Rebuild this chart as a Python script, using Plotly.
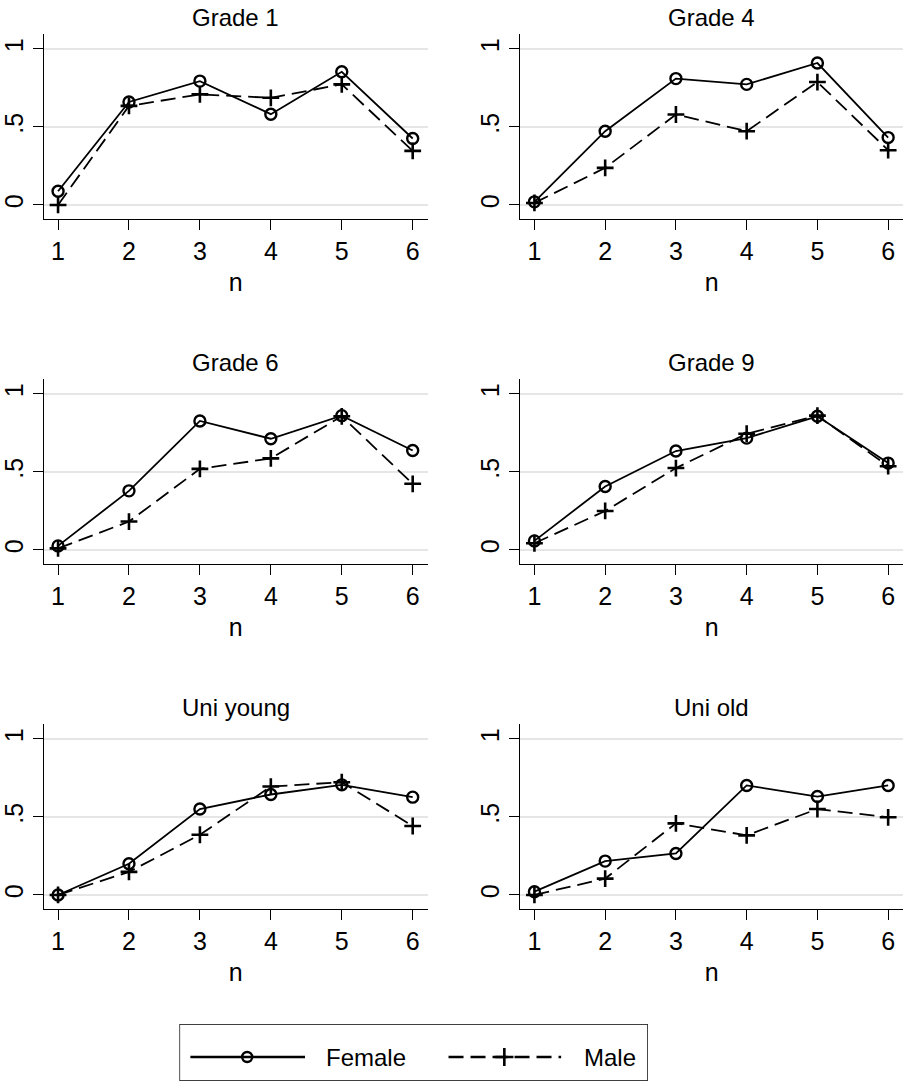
import plotly.graph_objects as go

W, H = 905, 1088

n_vals = [1, 2, 3, 4, 5, 6]
panel_titles = ["Grade 1", "Grade 4", "Grade 6", "Grade 9", "Uni young", "Uni old"]

female_grade1 = [0.088, 0.66, 0.794, 0.582, 0.854, 0.426]
male_grade1 = [0.0, 0.635, 0.709, 0.687, 0.773, 0.347]
female_grade4 = [0.02, 0.473, 0.81, 0.773, 0.91, 0.432]
male_grade4 = [0.013, 0.238, 0.58, 0.473, 0.788, 0.351]
female_grade6 = [0.026, 0.379, 0.827, 0.713, 0.861, 0.638]
male_grade6 = [0.01, 0.182, 0.52, 0.587, 0.857, 0.424]
female_grade9 = [0.058, 0.407, 0.634, 0.717, 0.857, 0.557]
male_grade9 = [0.043, 0.25, 0.525, 0.745, 0.861, 0.537]
female_uni_young = [0.0, 0.2, 0.551, 0.644, 0.706, 0.627]
male_uni_young = [0.0, 0.148, 0.386, 0.695, 0.723, 0.442]
female_uni_old = [0.021, 0.217, 0.266, 0.702, 0.631, 0.702]
male_uni_old = [0.0, 0.105, 0.459, 0.382, 0.551, 0.498]

female_series = [female_grade1, female_grade4, female_grade6, female_grade9, female_uni_young, female_uni_old]
male_series = [male_grade1, male_grade4, male_grade6, male_grade9, male_uni_young, male_uni_old]

y_tickvals = [0, 0.5, 1]
y_ticktext = ["0", ".5", "1"]

FONT = "Liberation Sans, Arial, Helvetica, sans-serif"
DASH = "15px,7px"
TICK_SIZE = 25

# plot-area pixel boxes (left, right, top, bottom)
col_px = [(41, 426), (519, 903)]
row_px = [(34, 219), (379, 564), (724, 909)]

fig = go.Figure()
layout = dict(
    width=W, height=H,
    margin=dict(l=0, r=0, t=0, b=0),
    paper_bgcolor="white", plot_bgcolor="rgba(0,0,0,0)",
    showlegend=False,
    font=dict(family=FONT, size=24, color="black"),
    annotations=[], shapes=[],
)

for i in range(6):
    r, c = divmod(i, 2)
    xl, xr = col_px[c]
    yt, yb = row_px[r]
    ax = "" if i == 0 else str(i + 1)
    fig.add_trace(go.Scatter(
        x=n_vals, y=female_series[i], mode="lines+markers",
        xaxis="x" + ax, yaxis="y" + ax,
        line=dict(color="black", width=1.8),
        marker=dict(symbol="circle-open", size=11, color="black", line=dict(width=2.4)),
        name="Female"))
    fig.add_trace(go.Scatter(
        x=n_vals, y=male_series[i], mode="lines+markers",
        xaxis="x" + ax, yaxis="y" + ax,
        line=dict(color="black", width=1.8, dash=DASH),
        marker=dict(symbol="cross-thin-open", size=12, color="black", line=dict(width=2.6, color="black")),
        name="Male"))
    layout["xaxis" + ax] = dict(
        domain=[xl / W, xr / W], range=[0.8, 6.21], anchor="y" + ax,
        tickvals=n_vals, ticks="outside", ticklen=10, tickwidth=1.4, tickcolor="black",
        showline=True, linecolor="black", linewidth=1.4, showgrid=False, zeroline=False,
        tickfont=dict(size=TICK_SIZE, family=FONT, color="black"),
        title=dict(text="n", font=dict(size=25, family=FONT, color="black"), standoff=9),
        fixedrange=True,
    )
    layout["yaxis" + ax] = dict(
        domain=[1 - yb / H, 1 - yt / H], range=[-0.09, 1.096], anchor="x" + ax,
        tickvals=y_tickvals, ticktext=y_ticktext, tickangle=-90,
        ticks="outside", ticklen=10, tickwidth=1.4, tickcolor="black",
        showline=True, linecolor="black", linewidth=1.4,
        showgrid=True, gridcolor="#e6e6e6", gridwidth=2, zeroline=False,
        tickfont=dict(size=TICK_SIZE, family=FONT, color="black"),
        fixedrange=True,
    )
    layout["annotations"].append(dict(
        text=panel_titles[i], x=(xl + xr) / 2 / W, y=1 - (yt - 17) / H,
        xref="paper", yref="paper", showarrow=False, xanchor="center", yanchor="middle",
        font=dict(size=24, family=FONT, color="black")))

# custom legend drawn in pixel space on its own small axis over the legend box
LX0, LX1, LY0, LY1 = 177, 647, 1024, 1081
layout["xaxis7"] = dict(domain=[LX0 / W, LX1 / W], range=[LX0, LX1], visible=False, fixedrange=True, anchor="y7")
layout["yaxis7"] = dict(domain=[1 - LY1 / H, 1 - LY0 / H], range=[LY1, LY0], visible=False, fixedrange=True, anchor="x7")
leg_y = 1057
fig.add_trace(go.Scatter(x=[188, 303], y=[leg_y, leg_y], mode="lines", xaxis="x7", yaxis="y7",
                         line=dict(color="black", width=2.6), hoverinfo="skip", cliponaxis=False))
fig.add_trace(go.Scatter(x=[245], y=[leg_y], mode="markers", xaxis="x7", yaxis="y7",
                         marker=dict(symbol="circle-open", size=10, color="black", line=dict(width=2.4)),
                         hoverinfo="skip", cliponaxis=False))
fig.add_trace(go.Scatter(x=[447, 560], y=[leg_y, leg_y], mode="lines", xaxis="x7", yaxis="y7",
                         line=dict(color="black", width=2.6, dash=DASH), hoverinfo="skip", cliponaxis=False))
fig.add_trace(go.Scatter(x=[503], y=[leg_y], mode="markers", xaxis="x7", yaxis="y7",
                         marker=dict(symbol="cross-thin-open", size=13, color="black", line=dict(width=2.6, color="black")),
                         hoverinfo="skip", cliponaxis=False))
layout["shapes"].append(dict(type="rect", xref="x7", yref="y7", x0=LX0, x1=LX1, y0=LY0, y1=LY1,
                             line=dict(color="black", width=1.4), fillcolor="rgba(0,0,0,0)", layer="below"))
for txt, xp in [("Female", 322), ("Male", 581)]:
    layout["annotations"].append(dict(text=txt, x=xp, y=leg_y, xref="x7", yref="y7", showarrow=False,
                                      xanchor="left", yanchor="middle",
                                      font=dict(size=24, family=FONT, color="black")))

fig.update_layout(**layout)
fig.write_html("out.html")
